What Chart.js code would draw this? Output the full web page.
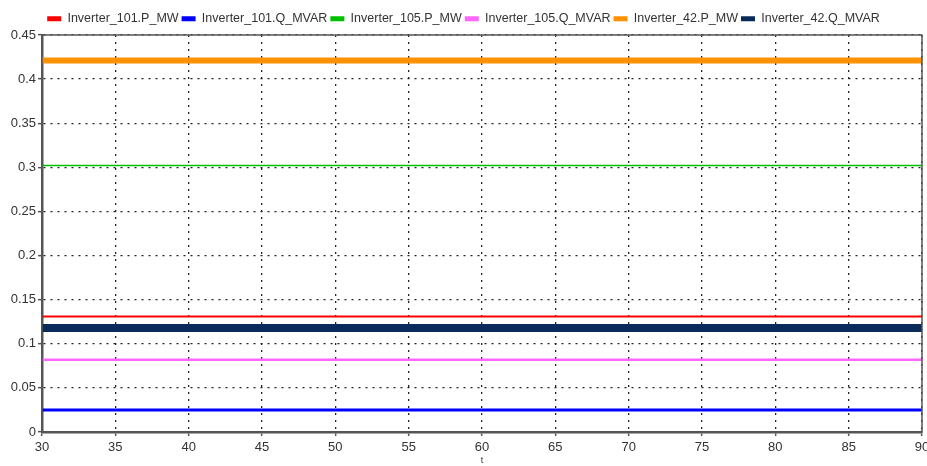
<!DOCTYPE html>
<html>
<head>
<meta charset="utf-8">
<script src="https://cdn.jsdelivr.net/npm/chart.js@4"></script>
<style>
  html, body { margin: 0; padding: 0; background: #fff; }
  #wrap { width: 927px; height: 466px; }
</style>
</head>
<body>
<div id="wrap"><canvas id="chart" width="927" height="466"></canvas></div>
<script>
// time axis (s)
const times = [30, 35, 40, 45, 50, 55, 60, 65, 70, 75, 80, 85, 90]

const inv101P = [0.131, 0.131, 0.131, 0.131, 0.131, 0.131, 0.131, 0.131, 0.131, 0.131, 0.131, 0.131, 0.131]
const inv101Q = [0.025, 0.025, 0.025, 0.025, 0.025, 0.025, 0.025, 0.025, 0.025, 0.025, 0.025, 0.025, 0.025]
const inv105P = [0.302, 0.302, 0.302, 0.302, 0.302, 0.302, 0.302, 0.302, 0.302, 0.302, 0.302, 0.302, 0.302]
const inv105Q = [0.082, 0.082, 0.082, 0.082, 0.082, 0.082, 0.082, 0.082, 0.082, 0.082, 0.082, 0.082, 0.082]
const inv42P = [0.421, 0.421, 0.421, 0.421, 0.421, 0.421, 0.421, 0.421, 0.421, 0.421, 0.421, 0.421, 0.421]
const inv42Q = [0.118, 0.118, 0.118, 0.118, 0.118, 0.118, 0.118, 0.118, 0.118, 0.118, 0.118, 0.118, 0.118]

const yTicks = [0, 0.05, 0.1, 0.15, 0.2, 0.25, 0.3, 0.35, 0.4, 0.45]

function series(label, values, color, width)
{
    return {
        label: label,
        data: times.map((t, i) => ({x: t, y: values[i]})),
        borderColor: color,
        backgroundColor: color,
        borderWidth: width,
        pointRadius: 0,
        tension: 0,
    }
}

// box around the plot area (top and right edges)
const frame = {
    id: 'frame',
    afterDraw(chart) {
        const a = chart.chartArea
        const ctx = chart.ctx
        ctx.save()
        ctx.strokeStyle = '#555'
        ctx.lineWidth = 1.5
        ctx.strokeRect(a.left, a.top, a.right - a.left, a.bottom - a.top)
        ctx.restore()
    }
}

const gridOpts = {
    color: '#222',
    lineWidth: 1.3,
    tickLength: 4,
    tickColor: '#555',
    tickWidth: 1.5,
    tickBorderDash: [],
}

Chart.defaults.font.family = '"Liberation Sans", Arial, sans-serif'
Chart.defaults.color = '#333'

new Chart(document.getElementById('chart'), {
    type: 'line',
    data: {
        datasets: [
            series('Inverter_101.P_MW', inv101P, '#ff0000', 2),
            series('Inverter_101.Q_MVAR', inv101Q, '#0000ff', 3),
            series('Inverter_105.P_MW', inv105P, '#00c000', 1.5),
            series('Inverter_105.Q_MVAR', inv105Q, '#ff66ff', 2.5),
            series('Inverter_42.P_MW', inv42P, '#ff9000', 6),
            series('Inverter_42.Q_MVAR', inv42Q, '#0a2a5a', 8),
        ]
    },
    options: {
        responsive: false,
        animation: false,
        layout: {
            padding: {left: 0, right: 0, top: 8, bottom: 0}
        },
        plugins: {
            legend: {
                display: true,
                position: 'top',
                labels: {
                    boxWidth: 14,
                    boxHeight: 5,
                    padding: 3,
                    font: {size: 12.5},
                    color: '#333',
                    generateLabels(chart) {
                        const items = Chart.defaults.plugins.legend.labels.generateLabels(chart)
                        items.forEach(it => { it.lineWidth = 0 })
                        return items
                    }
                }
            },
            tooltip: {enabled: false}
        },
        scales: {
            x: {
                type: 'linear',
                min: 30,
                max: 90,
                afterFit(scale) {
                    scale.height = 34
                    scale.paddingRight = 5
                },
                ticks: {
                    stepSize: 5,
                    font: {size: 13},
                    padding: 4,
                    maxRotation: 0,
                },
                grid: gridOpts,
                border: {color: '#555', width: 2.5, dash: [2, 5]},
                title: {
                    display: true,
                    text: 't',
                    font: {size: 9},
                    padding: 0,
                }
            },
            y: {
                min: 0,
                max: 0.45,
                afterFit(scale) {
                    scale.width = 42
                    scale.paddingTop = 35
                },
                afterBuildTicks(scale) { scale.ticks = yTicks.map(v => ({value: v})) },
                ticks: {
                    font: {size: 13},
                    padding: 2,
                    callback: v => String(parseFloat(v.toFixed(2))),
                },
                grid: gridOpts,
                border: {color: '#555', width: 2.5, dash: [2, 5]},
            }
        }
    },
    plugins: [frame]
})
</script>
</body>
</html>
